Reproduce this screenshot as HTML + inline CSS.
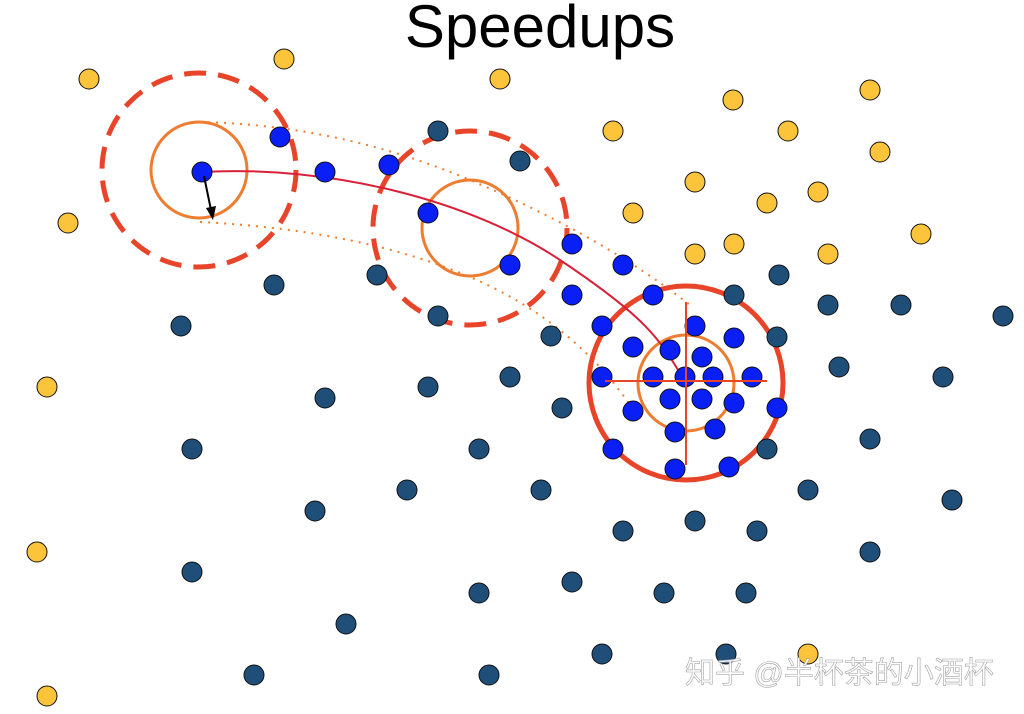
<!DOCTYPE html>
<html><head><meta charset="utf-8"><style>
html,body{margin:0;padding:0;background:#fff;width:1024px;height:714px;overflow:hidden}
svg{display:block}
</style></head><body>
<svg id="chart" width="1024" height="714" viewBox="0 0 1024 714" xmlns="http://www.w3.org/2000/svg">
<text x="540" y="47" text-anchor="middle" font-family="Liberation Sans, sans-serif" font-size="60" fill="#000">Speedups</text>
<g id="overlay">
<path d="M200,122 Q340,125 470,180 T690,305" fill="none" stroke="#ed7d31" stroke-width="2" stroke-dasharray="2,6"/>
<path d="M200,222 Q360,230 470,277 T640,420" fill="none" stroke="#ed7d31" stroke-width="2" stroke-dasharray="2,6"/>
<circle cx="199" cy="170" r="97" fill="none" stroke="#e8442a" stroke-width="5" stroke-dasharray="22,12"/>
<circle cx="199" cy="170" r="48" fill="none" stroke="#ed7d31" stroke-width="3"/>
<circle cx="470" cy="228" r="97" fill="none" stroke="#e8442a" stroke-width="5" stroke-dasharray="22,12"/>
<circle cx="470" cy="228" r="48" fill="none" stroke="#ed7d31" stroke-width="3"/>
<circle cx="686" cy="383" r="97" fill="none" stroke="#e8442a" stroke-width="5"/>
<circle cx="686" cy="383" r="48" fill="none" stroke="#ed7d31" stroke-width="3"/>
<path d="M202,172 C330,165 470,200 560,260 S660,340 686,383" fill="none" stroke="#d9203a" stroke-width="2"/>
</g>
<g id="dots"></g>
<g>
<line x1="605" y1="381" x2="767" y2="381" stroke="#e8442a" stroke-width="2"/>
<line x1="686" y1="302" x2="686" y2="465" stroke="#e8442a" stroke-width="2"/>
</g>
<line x1="204" y1="176" x2="211" y2="210" stroke="#000" stroke-width="2"/>
<polygon points="206,208 216,206 213,220" fill="#000"/>
<text x="685" y="683" font-family="Liberation Sans, Noto Sans CJK SC, sans-serif" font-size="30" fill="#fff" stroke="#999" stroke-width="0.6" opacity="0.9">知乎 @半杯茶的小酒杯</text>
</svg>
<script>
const yellowX=[89,284,500,733,870,613,788,880,68,695,818,767,633,921,734,695,828,47,37,808,47];
const yellowY=[79,59,79,100,90,131,131,152,223,182,192,203,213,234,244,254,254,387,552,654,696];
const navyX=[438,520,377,274,181,438,551,734,779,828,901,1003,777,839,943,510,428,325,562,192,479,870,767,407,315,541,808,952,623,695,757,192,870,479,572,664,746,346,602,726,254,489];
const navyY=[131,161,275,285,326,316,336,295,275,305,305,316,337,367,377,377,387,398,408,449,449,439,449,490,511,490,490,500,531,521,531,572,552,593,582,593,593,624,654,654,675,675];
const blueX=[202,280,325,389,428,510,572,623,572,653,602,695,633,670,734,702,602,653,685,713,752,670,702,734,633,777,675,715,613,675,729];
const blueY=[172,137,172,165,213,265,244,265,295,295,326,326,347,350,338,357,377,377,377,377,377,399,399,403,411,408,432,429,449,469,467];
const g=document.getElementById('dots');
const NS='http://www.w3.org/2000/svg';
function draw(xs,ys,fill,name){
  for(let i=0;i<xs.length;i++){
    const c=document.createElementNS(NS,'circle');
    c.setAttribute('cx',xs[i]);c.setAttribute('cy',ys[i]);c.setAttribute('r',10);
    c.setAttribute('fill',fill);c.setAttribute('stroke','#111');c.setAttribute('stroke-width','1');
    
    
    g.appendChild(c);
  }
}
draw(yellowX,yellowY,'#fbc43a','yellow-point');
draw(navyX,navyY,'#1f4e79','navy-point');
draw(blueX,blueY,'#0a1ff5','blue-point');
</script>
</body></html>
